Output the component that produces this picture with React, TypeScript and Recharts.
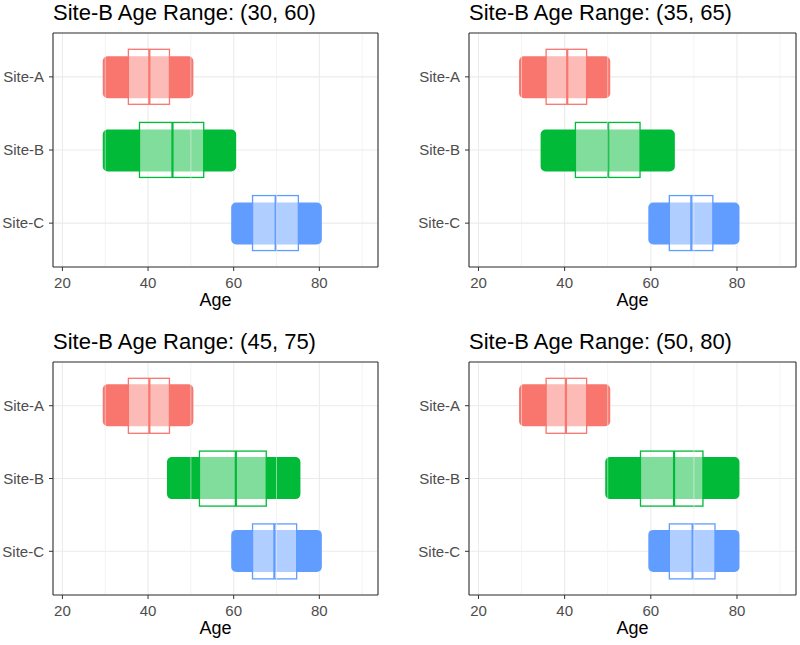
import React from "react";
import { ComposedChart, Bar, XAxis, YAxis, CartesianGrid, ReferenceLine } from "recharts";

const SITES = ["Site-A", "Site-B", "Site-C"];
const COLORS = ["#F8766D", "#00BA38", "#619CFF"];

const TITLES = [
  "Site-B Age Range: (30, 60)",
  "Site-B Age Range: (35, 65)",
  "Site-B Age Range: (45, 75)",
  "Site-B Age Range: (50, 80)",
];

// min / max of the jittered ages, per panel and site
const SITE_A_RANGE = [30, 50];
const SITE_C_RANGE = [60, 80];
const SITE_B_RANGES = [
  [30, 60],
  [35, 65],
  [45, 75],
  [50, 80],
];

// boxplot stats per panel: [Site-A, Site-B, Site-C]
const Q1 = [
  [35.4, 38.0, 64.4],
  [35.7, 42.5, 64.3],
  [35.4, 52.0, 64.4],
  [35.7, 57.6, 64.3],
];
const MEDIAN = [
  [40.3, 45.7, 69.8],
  [40.6, 50.1, 69.4],
  [40.3, 60.5, 69.5],
  [40.3, 65.4, 69.7],
];
const Q3 = [
  [45.0, 53.0, 75.1],
  [45.1, 57.5, 74.4],
  [45.0, 67.6, 74.7],
  [45.1, 72.1, 74.9],
];

const X_TICKS = [20, 40, 60, 80];
const X_MINOR = [30, 50, 70, 90];
const X_DOMAIN = [17.8, 93.7];

const buildRows = (p: number) => {
  const ranges = [SITE_A_RANGE, SITE_B_RANGES[p], SITE_C_RANGE];
  return SITES.map((site, i) => ({
    site,
    cloud: ranges[i],
    box: [Q1[p][i], Q3[p][i]],
    med: [MEDIAN[p][i], MEDIAN[p][i]],
  }));
};

// the dense jittered points, drawn as one band (padded by the point radius)
const Cloud = (props: any) => {
  const { x, y, width, height, index } = props;
  const r = 2.5;
  return <rect x={x - r} y={y} width={width + 2 * r} height={height} rx={5} ry={5} fill={COLORS[index]} />;
};

const Box = (props: any) => {
  const { x, y, width, height, index } = props;
  return (
    <rect
      x={x}
      y={y}
      width={width}
      height={height}
      fill="#ffffff"
      fillOpacity={0.5}
      stroke={COLORS[index]}
      strokeWidth={1.3}
    />
  );
};

const Median = (props: any) => {
  const { x, y, height, index } = props;
  return <line x1={x} x2={x} y1={y} y2={y + height} stroke={COLORS[index]} strokeWidth={2.2} />;
};

const LAYOUT = [
  { left: 0, top: 0, h: 322, m: { top: 32, right: 21, bottom: 0, left: 0 }, xh: 55, lo: 16 },
  { left: 400, top: 0, h: 322, m: { top: 32, right: 3, bottom: 0, left: 16 }, xh: 55, lo: 16 },
  { left: 0, top: 322, h: 323, m: { top: 39, right: 21, bottom: 0, left: 0 }, xh: 50, lo: 11 },
  { left: 400, top: 322, h: 323, m: { top: 39, right: 3, bottom: 0, left: 16 }, xh: 50, lo: 11 },
];

const catPad = { top: 7.3, bottom: 7.3 };
const tickStyle = { fill: "#4D4D4D", fontSize: 15 };
const border = { stroke: "#333333", strokeWidth: 1.1 };

function Panel({ p }: { p: number }) {
  const L = LAYOUT[p];
  const rows = buildRows(p);
  return (
    <div style={{ position: "absolute", left: L.left, top: L.top, width: 400, height: L.h }}>
      <div
        style={{
          position: "absolute",
          left: L.m.left + 53,
          top: L.m.top - 30,
          fontSize: 22,
          lineHeight: "22px",
          color: "#000",
          whiteSpace: "nowrap",
        }}
      >
        {TITLES[p]}
      </div>
      <ComposedChart width={400} height={L.h} data={rows} layout="vertical" margin={L.m}>
        <CartesianGrid stroke="#EBEBEB" strokeWidth={1.1} yAxisId="pts" />
        {X_MINOR.map((v) => (
          <ReferenceLine key={v} x={v} yAxisId="pts" stroke="#EBEBEB" strokeWidth={0.6} />
        ))}
        <XAxis
          type="number"
          domain={X_DOMAIN}
          allowDataOverflow
          ticks={X_TICKS}
          height={L.xh}
          tick={tickStyle}
          tickSize={4}
          tickMargin={6}
          tickLine={{ stroke: "#333333" }}
          axisLine={border}
          label={{ value: "Age", position: "insideBottom", offset: L.lo, fill: "#000", fontSize: 18 }}
        />
        <XAxis
          xAxisId="top"
          orientation="top"
          type="number"
          domain={X_DOMAIN}
          allowDataOverflow
          height={1}
          tick={false}
          tickLine={false}
          axisLine={border}
        />
        <YAxis
          yAxisId="pts"
          type="category"
          dataKey="site"
          width={53}
          padding={catPad}
          tick={tickStyle}
          tickSize={4}
          tickMargin={5}
          tickLine={{ stroke: "#333333" }}
          axisLine={border}
        />
        <YAxis yAxisId="box" type="category" dataKey="site" orientation="right" width={0} padding={catPad} hide />
        <YAxis yAxisId="med" type="category" dataKey="site" orientation="right" width={0} padding={catPad} hide />
        <YAxis
          yAxisId="right"
          orientation="right"
          type="category"
          dataKey="site"
          width={1}
          tick={false}
          tickLine={false}
          axisLine={border}
        />
        <Bar dataKey="cloud" yAxisId="pts" barSize={42} shape={Cloud} isAnimationActive={false} />
        <Bar dataKey="box" yAxisId="box" barSize={55} shape={Box} isAnimationActive={false} />
        <Bar dataKey="med" yAxisId="med" barSize={55} shape={Median} isAnimationActive={false} />
      </ComposedChart>
    </div>
  );
}

export default function App() {
  return (
    <div
      style={{
        position: "relative",
        width: 800,
        height: 645,
        background: "#fff",
        fontFamily: "'Liberation Sans', Arial, sans-serif",
      }}
    >
      <style>{"body{margin:0}"}</style>
      {[0, 1, 2, 3].map((p) => (
        <Panel key={p} p={p} />
      ))}
    </div>
  );
}
